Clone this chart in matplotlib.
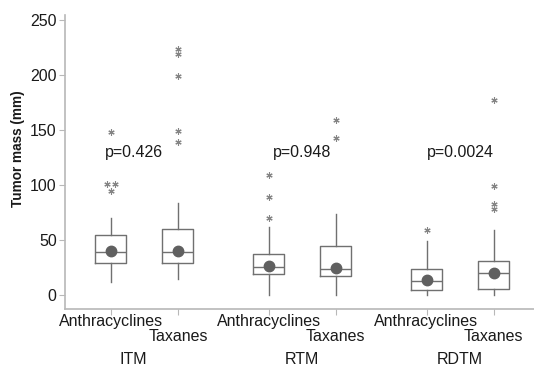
"""
plot.py
-------
Box plots of tumor mass by method (ITM, RTM, RDTM) and treatment arm.
"""

import matplotlib
matplotlib.use("Agg")
import matplotlib.pyplot as plt

# ---- data ----
groups = ["ITM", "RTM", "RDTM"]
arms = ["Anthracyclines", "Taxanes"]
p_values = ["p=0.426", "p=0.948", "p=0.0024"]

q1 = [28.8, 28.8, 18.8, 17.0, 5.0, 5.5]
med = [38.8, 38.8, 25.8, 23.8, 13.0, 19.7]
q3 = [54.5, 59.7, 37.2, 44.3, 23.6, 31.0]
whis_lo = [12.0, 15.0, 0.0, 0.0, 0.0, 0.0]
whis_hi = [70.3, 84.0, 62.0, 73.3, 49.0, 59.0]
means = [40.0, 40.0, 26.2, 24.2, 13.6, 20.3]
outliers = [
    [148.5, 100.6, 100.6, 94.8],
    [224.0, 219.0, 199.0, 149.0, 139.0],
    [109.0, 89.4, 69.7],
    [159.0, 142.4],
    [59.0],
    [177.0, 99.4, 82.4, 78.0],
]
p_value_y = 130

# ---- layout ----
positions = [1.0, 2.0, 3.35, 4.35, 5.7, 6.7]
group_label_x = [1.34, 3.85, 6.2]
box_gray = "#707070"
light_gray = "#b8b8b8"
text_color = "#1a1a1a"
font = ["Liberation Sans", "DejaVu Sans"]

plt.rcParams["font.family"] = font

fig = plt.figure(figsize=(5.34, 3.68), dpi=100)
ax = fig.add_axes([0.1217, 0.1603, 0.8783, 0.7987])

stats = []
for i in range(len(positions)):
    stats.append({
        "q1": q1[i], "med": med[i], "q3": q3[i],
        "whislo": whis_lo[i], "whishi": whis_hi[i],
        "mean": means[i], "fliers": [],
    })

ax.bxp(
    stats, positions=positions, widths=0.46, showcaps=False,
    showmeans=True, showfliers=False,
    boxprops=dict(color=box_gray, linewidth=1.0),
    whiskerprops=dict(color=box_gray, linewidth=1.0),
    medianprops=dict(color=box_gray, linewidth=1.0),
    meanprops=dict(marker="o", markerfacecolor="#606060",
                   markeredgecolor="#606060", markersize=7.5),
)

# outliers as asterisks, ties spread sideways
for pos, vals in zip(positions, outliers):
    seen = {}
    for v in vals:
        seen[v] = seen.get(v, 0) + 1
    done = {}
    for v in vals:
        n = seen[v]
        k = done.get(v, 0)
        done[v] = k + 1
        dx = 0.0 if n == 1 else (k - (n - 1) / 2) * 0.12
        ax.plot(pos + dx, v, linestyle="none", marker=(6, 2, 0),
                markersize=4.5, color="#858585", markeredgewidth=0.8)

for x, p in zip(group_label_x, p_values):
    ax.text(x, p_value_y, p, ha="center", va="center",
            fontsize=11.5, color=text_color)

ax.set_xlim(0.319, 7.3)
ax.set_ylim(-12.7, 254.5)
ax.set_yticks([0, 50, 100, 150, 200, 250])
ax.tick_params(axis="y", labelsize=11.5, colors=light_gray,
               labelcolor=text_color, length=4, pad=2)
ax.set_ylabel("Tumor mass (mm)", fontsize=9.8, fontweight="bold",
              color=text_color)
ax.yaxis.set_label_coords(-0.085, 0.544)

ax.set_xticks(positions)
ax.set_xticklabels([])
ax.tick_params(axis="x", colors=light_gray, length=4)
trans = ax.get_xaxis_transform()
for i, x in enumerate(positions):
    if i % 2 == 0:
        ax.text(x, -0.041, arms[0], ha="center", va="center",
                fontsize=11.5, color=text_color, transform=trans)
    else:
        ax.text(x, -0.092, arms[1], ha="center", va="center",
                fontsize=11.5, color=text_color, transform=trans)
for x, g in zip(group_label_x, groups):
    ax.text(x, -0.172, g, ha="center", va="center",
            fontsize=11.5, color=text_color, transform=trans)

for side in ["top", "right"]:
    ax.spines[side].set_visible(False)
for side in ["left", "bottom"]:
    ax.spines[side].set_color(light_gray)
    ax.spines[side].set_linewidth(1.2)

fig.savefig("out.png", dpi=100)
